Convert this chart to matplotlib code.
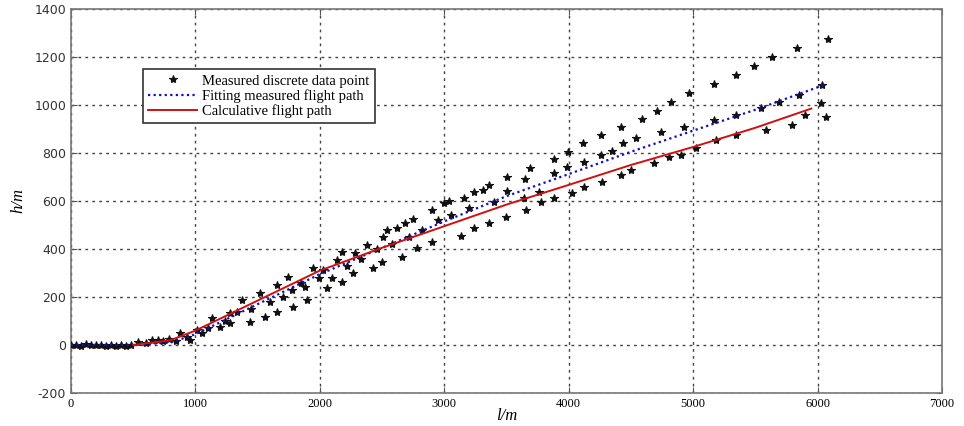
import matplotlib
matplotlib.use("Agg")
import matplotlib.pyplot as plt

# Measured discrete data points (l [m], h [m])
meas_l = [0, 40, 80, 120, 160, 200, 240, 280, 320, 360, 400, 440, 480, 540, 600, 650, 700, 740, 790, 840,
          875, 930, 960, 1011, 1051, 1100, 1132, 1196, 1240, 1276, 1276, 1333, 1372, 1437, 1450, 1517, 1557,
          1600, 1653, 1653, 1700, 1742, 1774, 1782, 1850, 1878, 1894, 1942, 1990, 2022, 2055, 2095, 2135,
          2175, 2175, 2220, 2263, 2280, 2330, 2376, 2424, 2460, 2496, 2504, 2536, 2580, 2616, 2656, 2681,
          2720, 2745, 2777, 2820, 2897, 2897, 2950, 3001,
          3041, 3162, 3242, 3307, 3363, 3507, 3692, 3884, 3997, 4117, 4262, 4422, 4591, 4711, 4823, 4968,
          5169, 5345, 5490, 5634, 5835, 6083,
          3050, 3200, 3403, 3500, 3650, 3884, 3989, 4125, 4262, 4350, 4438, 4543, 4743, 4928, 5169, 5345,
          5546, 5690, 5850, 6035,
          3138, 3242, 3363, 3499, 3644, 3660, 3764, 3780, 3884, 4029, 4125, 4270, 4422, 4502, 4687, 4807,
          4904, 5024, 5185, 5345, 5586, 5795, 5900, 6027, 6067]
meas_h = [0, 2, -3, 3, 0, -2, 2, -4, 1, -3, 2, -5, 0, 12, 8, 20, 22, 15, 25, 18,
          50, 35, 20, 62, 50, 70, 112, 75, 100, 133, 92, 137, 187, 96, 150, 217, 117,
          180, 250, 137, 200, 283, 229, 158, 260, 242, 187, 321, 280, 312, 237, 280, 354,
          387, 262, 330, 300, 383, 360, 417, 321, 400, 346, 450, 479, 420, 487, 367, 508,
          450, 525, 404, 480, 562, 429, 520, 592,
          600, 612, 637, 646, 667, 700, 737, 775, 804, 842, 875, 908, 942, 975, 1012, 1050,
          1087, 1125, 1162, 1200, 1237, 1275,
          540, 570, 596, 640, 690, 717, 742, 762, 792, 808, 842, 862, 887, 908, 937, 958,
          987, 1012, 1040, 1083,
          454, 487, 508, 533, 612, 562, 637, 596, 612, 633, 658, 679, 708, 729, 758, 783,
          792, 821, 854, 875, 896, 917, 960, 1008, 950]

# Fitting measured flight path
fit_l = [0, 500, 800, 1000, 1500, 2000, 2500, 3000, 3500, 4000, 4500, 5000, 5500, 6050]
fit_h = [0, 0, 10, 45, 170, 295, 405, 515, 620, 712, 805, 893, 980, 1083]

# Calculative flight path
calc_l = [500, 800, 1000, 1500, 2000, 2500, 3000, 3500, 4000, 4500, 5000, 5500, 5950]
calc_h = [0, 20, 60, 185, 310, 405, 495, 585, 667, 750, 825, 905, 985]

xticks = [0, 1000, 2000, 3000, 4000, 5000, 6000, 7000]
yticks = [-200, 0, 200, 400, 600, 800, 1000, 1200, 1400]

fig = plt.figure(figsize=(9.64, 4.26), dpi=100)
ax = fig.add_axes([0.0737, 0.0775, 0.9035, 0.9015])

ax.plot(meas_l, meas_h, linestyle='none', marker='*', markersize=6, color='#111111',
        markeredgewidth=0.8, label='Measured discrete data point', zorder=3)
ax.plot(fit_l, fit_h, linestyle=(0, (1, 1.5)), linewidth=1.6, color='#1010c0',
        label='Fitting measured flight path', zorder=4)
ax.plot(calc_l, calc_h, linestyle='-', linewidth=1.4, color='#d01010',
        label='Calculative flight path', zorder=5)

ax.set_xlim(0, 7000)
ax.set_ylim(-200, 1400)
ax.set_xticks(xticks)
ax.set_yticks(yticks)
ax.set_xticklabels([str(v) for v in xticks], fontfamily='Liberation Serif', fontsize=9)
ax.set_yticklabels([str(v) for v in yticks], fontfamily='DejaVu Sans', fontsize=9, color='#333333')
ax.tick_params(direction='in', length=4, color='#555555', top=True, right=True)

ax.grid(True, linestyle=(0, (2, 3)), color='#444444', linewidth=1.0)
for s in ax.spines.values():
    s.set_color('#777777')
    s.set_linewidth(1.2)

ax.set_xlabel('l/m', fontfamily='Liberation Serif', fontstyle='italic', fontsize=12, labelpad=-1)
ax.set_ylabel('h/m', fontfamily='Liberation Serif', fontstyle='italic', fontsize=12, labelpad=6)

leg = ax.legend(loc='upper left', bbox_to_anchor=(0.083, 0.843), prop={'family': 'Liberation Serif', 'size': 10.5},
                frameon=True, fancybox=False, borderpad=0.35, labelspacing=0.1, handlelength=3.3,
                handletextpad=0.4, borderaxespad=0)
leg.get_frame().set_edgecolor('#333333')
leg.get_frame().set_linewidth(1.2)
leg.get_frame().set_alpha(1)

fig.savefig('out.png', dpi=100)
